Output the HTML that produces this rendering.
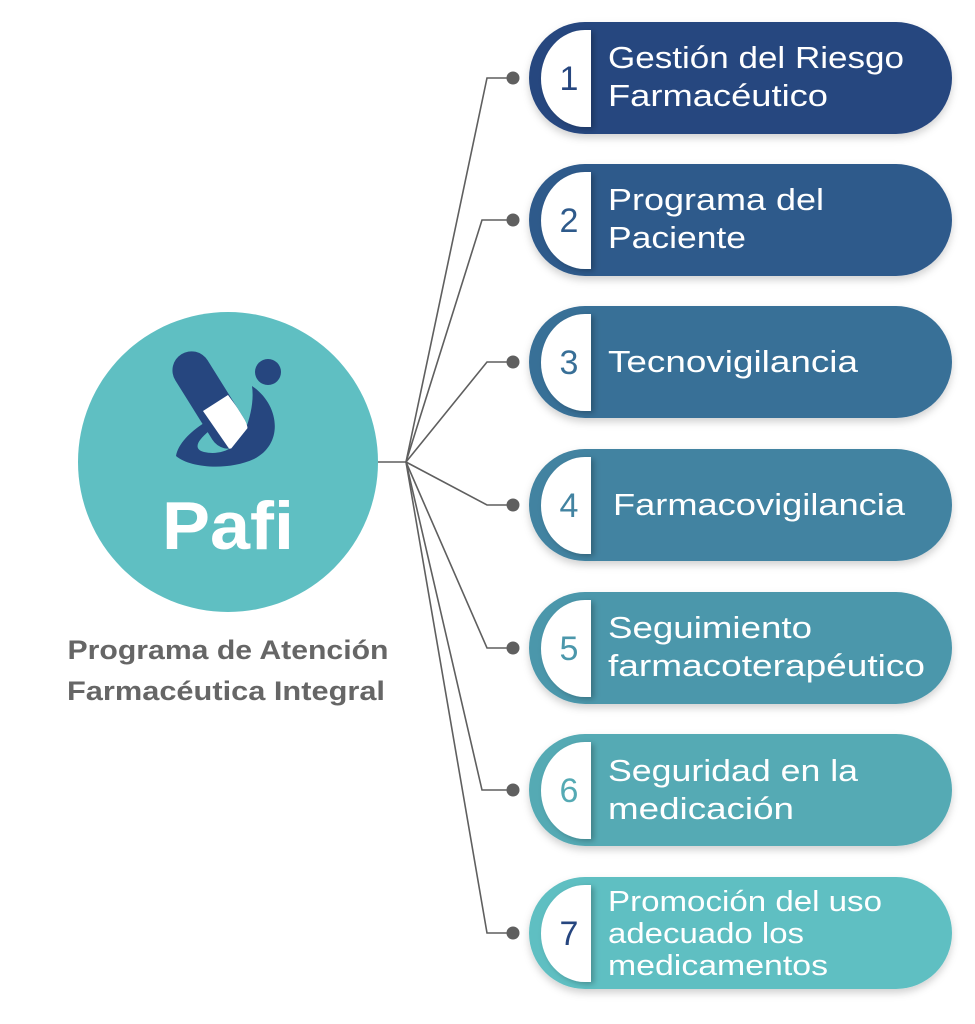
<!DOCTYPE html>
<html><head><meta charset="utf-8"><style>
html,body{margin:0;padding:0;background:#fff;}
svg{display:block;}
text{font-family:"Liberation Sans",sans-serif;}
</style></head><body>
<svg width="975" height="1024" viewBox="0 0 975 1024" xmlns="http://www.w3.org/2000/svg">
<defs>
<filter id="sh" x="-10%" y="-20%" width="120%" height="150%"><feDropShadow dx="0" dy="4" stdDeviation="4" flood-color="#000" flood-opacity="0.18"/></filter>
<filter id="sh2" x="-30%" y="-20%" width="160%" height="140%"><feDropShadow dx="3" dy="2" stdDeviation="3" flood-color="#000" flood-opacity="0.25"/></filter>
<clipPath id="pc"><rect x="191" y="346" width="38" height="108" rx="19" transform="rotate(-32 210 400)"/></clipPath>
</defs>
<g stroke="#5f5f5f" stroke-width="1.6" fill="none">
<line x1="378" y1="462" x2="406" y2="462"/>
<polyline points="406,462 487,78 512,78"/>
<polyline points="406,462 482,220 512,220"/>
<polyline points="406,462 487,362 512,362"/>
<polyline points="406,462 487,505 512,505"/>
<polyline points="406,462 487,648 512,648"/>
<polyline points="406,462 482,790 512,790"/>
<polyline points="406,462 487,933 512,933"/>
</g>
<g fill="#5f5f5f">
<circle cx="513" cy="78" r="6.5"/><circle cx="513" cy="220" r="6.5"/><circle cx="513" cy="362" r="6.5"/>
<circle cx="513" cy="505" r="6.5"/><circle cx="513" cy="648" r="6.5"/><circle cx="513" cy="790" r="6.5"/><circle cx="513" cy="933" r="6.5"/>
</g>
<circle cx="228" cy="462" r="150" fill="#5fbfc2"/>
<g>
<path d="M252,386 C280,405 284,444 254,459 C228,471 190,468 176,456 C178,444 190,432 204,423 L209,431 C197,441 193,449 204,452 C222,456 239,447 245,431 C251,415 254,400 252,386 Z" fill="#26467f"/>
<rect x="191" y="346" width="38" height="108" rx="19" transform="rotate(-32 210 400)" fill="#26467f"/>
<polygon points="203,411 228,395 250,425 230,450" fill="#fff" clip-path="url(#pc)"/>
<circle cx="268" cy="372" r="13" fill="#26467f"/>
</g>
<text x="228" y="549" text-anchor="middle" font-size="68" font-weight="bold" fill="#fff" textLength="132" lengthAdjust="spacingAndGlyphs">Pafi</text>
<text x="228" y="659" text-anchor="middle" font-size="27" font-weight="bold" fill="#666" textLength="321" lengthAdjust="spacingAndGlyphs">Programa de Atención</text>
<text x="226" y="700" text-anchor="middle" font-size="27" font-weight="bold" fill="#666" textLength="318" lengthAdjust="spacingAndGlyphs">Farmacéutica Integral</text>

<g font-size="31" fill="#fff">
<g filter="url(#sh)"><rect x="529" y="22" width="423" height="112" rx="56" fill="#26467f"/></g>
<path d="M591,30 L591,127 L585,127 A44,48.5 0 0 1 585,30 Z" fill="#fff" filter="url(#sh2)"/>
<text x="569" y="90" font-size="34" fill="#26467f" text-anchor="middle">1</text>
<text x="608" y="68" textLength="296" lengthAdjust="spacingAndGlyphs">Gestión del Riesgo</text>
<text x="608" y="106" textLength="220" lengthAdjust="spacingAndGlyphs">Farmacéutico</text>

<g filter="url(#sh)"><rect x="529" y="164" width="423" height="112" rx="56" fill="#2e5a8b"/></g>
<path d="M591,172 L591,269 L585,269 A44,48.5 0 0 1 585,172 Z" fill="#fff" filter="url(#sh2)"/>
<text x="569" y="232" font-size="34" fill="#2e5a8b" text-anchor="middle">2</text>
<text x="608" y="210" textLength="216" lengthAdjust="spacingAndGlyphs">Programa del</text>
<text x="608" y="248" textLength="138" lengthAdjust="spacingAndGlyphs">Paciente</text>

<g filter="url(#sh)"><rect x="529" y="306" width="423" height="112" rx="56" fill="#386f97"/></g>
<path d="M591,314 L591,411 L585,411 A44,48.5 0 0 1 585,314 Z" fill="#fff" filter="url(#sh2)"/>
<text x="569" y="374" font-size="34" fill="#386f97" text-anchor="middle">3</text>
<text x="608" y="372" textLength="250" lengthAdjust="spacingAndGlyphs">Tecnovigilancia</text>

<g filter="url(#sh)"><rect x="529" y="449" width="423" height="112" rx="56" fill="#4283a1"/></g>
<path d="M591,457 L591,554 L585,554 A44,48.5 0 0 1 585,457 Z" fill="#fff" filter="url(#sh2)"/>
<text x="569" y="517" font-size="34" fill="#4283a1" text-anchor="middle">4</text>
<text x="613" y="515" textLength="292" lengthAdjust="spacingAndGlyphs">Farmacovigilancia</text>

<g filter="url(#sh)"><rect x="529" y="592" width="423" height="112" rx="56" fill="#4b97ab"/></g>
<path d="M591,600 L591,697 L585,697 A44,48.5 0 0 1 585,600 Z" fill="#fff" filter="url(#sh2)"/>
<text x="569" y="660" font-size="34" fill="#4b97ab" text-anchor="middle">5</text>
<text x="608" y="638" textLength="204" lengthAdjust="spacingAndGlyphs">Seguimiento</text>
<text x="608" y="676" textLength="317" lengthAdjust="spacingAndGlyphs">farmacoterapéutico</text>

<g filter="url(#sh)"><rect x="529" y="734" width="423" height="112" rx="56" fill="#55aab4"/></g>
<path d="M591,742 L591,839 L585,839 A44,48.5 0 0 1 585,742 Z" fill="#fff" filter="url(#sh2)"/>
<text x="569" y="802" font-size="34" fill="#55aab4" text-anchor="middle">6</text>
<text x="608" y="781" textLength="250" lengthAdjust="spacingAndGlyphs">Seguridad en la</text>
<text x="608" y="819" textLength="186" lengthAdjust="spacingAndGlyphs">medicación</text>

<g filter="url(#sh)"><rect x="529" y="877" width="423" height="112" rx="56" fill="#5fbfc2"/></g>
<path d="M591,885 L591,982 L585,982 A44,48.5 0 0 1 585,885 Z" fill="#fff" filter="url(#sh2)"/>
<text x="569" y="945" font-size="34" fill="#26467f" text-anchor="middle">7</text>
<text x="608" y="911" font-size="29" textLength="274" lengthAdjust="spacingAndGlyphs">Promoción del uso</text>
<text x="608" y="943" font-size="29" textLength="196" lengthAdjust="spacingAndGlyphs">adecuado los</text>
<text x="608" y="975" font-size="29" textLength="220" lengthAdjust="spacingAndGlyphs">medicamentos</text>
</g>
</svg>
</body></html>
